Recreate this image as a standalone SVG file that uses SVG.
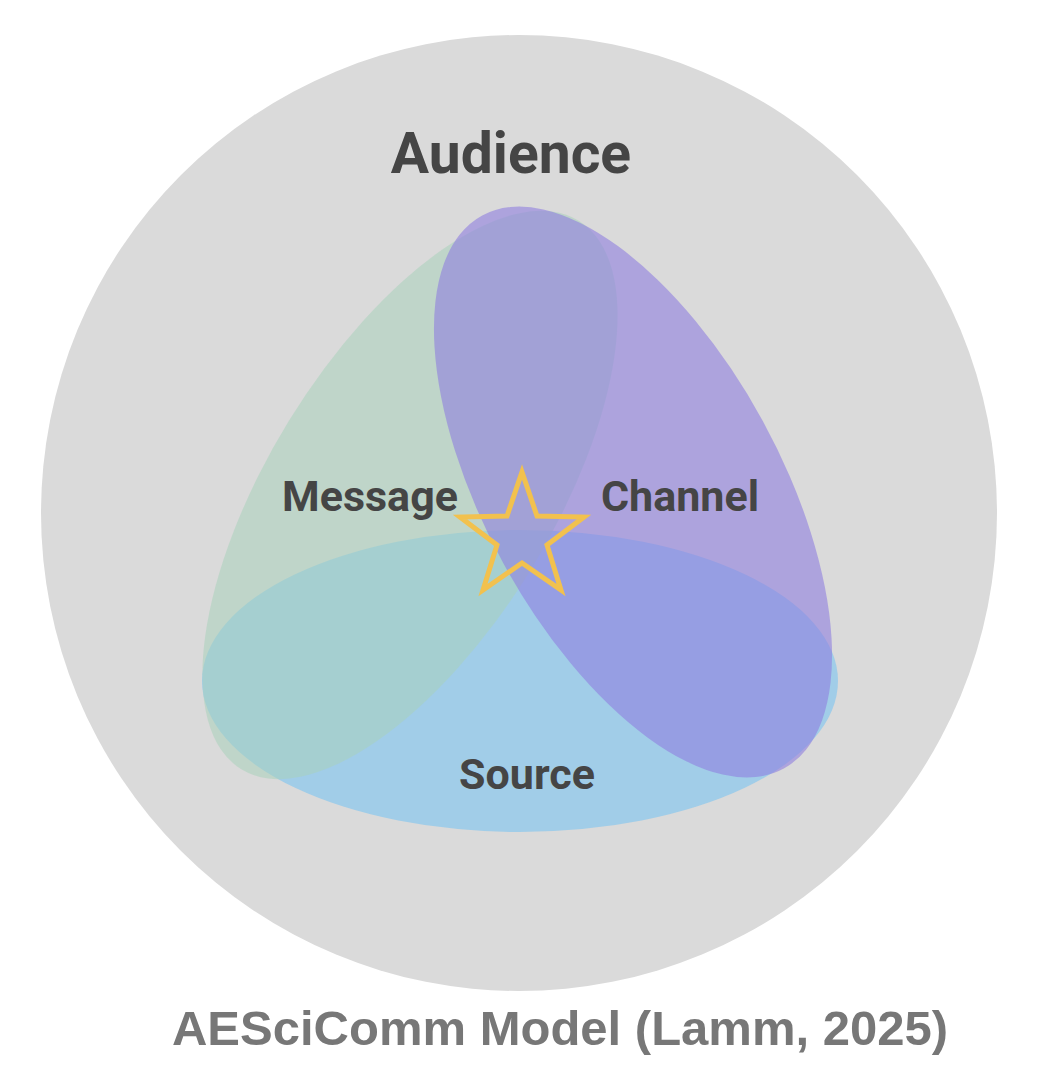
<svg xmlns="http://www.w3.org/2000/svg" width="1043" height="1068" viewBox="0 0 1043 1068">
<style>
.lbl{font-family:Roboto,"Liberation Sans",sans-serif;font-weight:bold;fill:#454545;text-anchor:middle}
</style>
<rect width="1043" height="1068" fill="#fff"/>
<g id="audience"><circle cx="519" cy="513" r="478" fill="#dadada"/>
<text class="lbl" x="511" y="173" font-size="57">Audience</text></g>
<g id="source"><ellipse cx="520" cy="681" rx="318" ry="151" fill="#8ec8ec" opacity="0.75"/></g>
<g id="message"><ellipse cx="410" cy="495" rx="142" ry="322" transform="rotate(31.6 410 495)" fill="#a9d2bb" opacity="0.55"/></g>
<g id="channel"><ellipse cx="633" cy="492" rx="148" ry="315" transform="rotate(-28.6 633 492)" fill="#8f7fe0" opacity="0.6"/></g>
<g id="labels">
<text class="lbl" x="370" y="511" font-size="43">Message</text>
<text class="lbl" x="680" y="511" font-size="43">Channel</text>
<text class="lbl" x="527" y="789" font-size="43">Source</text>
</g>
<g id="star"><polygon points="522,472 537,516 584,517 547,545 561,590 522,563 483,590 497,545 460,517 507,516" fill="none" stroke="#f2c14e" stroke-width="5" stroke-linejoin="miter"/></g>
<g id="connectors"/>
<text x="560" y="1045" font-family="'Liberation Sans',Arial,sans-serif" font-weight="bold" font-size="49" fill="#777" text-anchor="middle">AESciComm Model (Lamm, 2025)</text>
</svg>
